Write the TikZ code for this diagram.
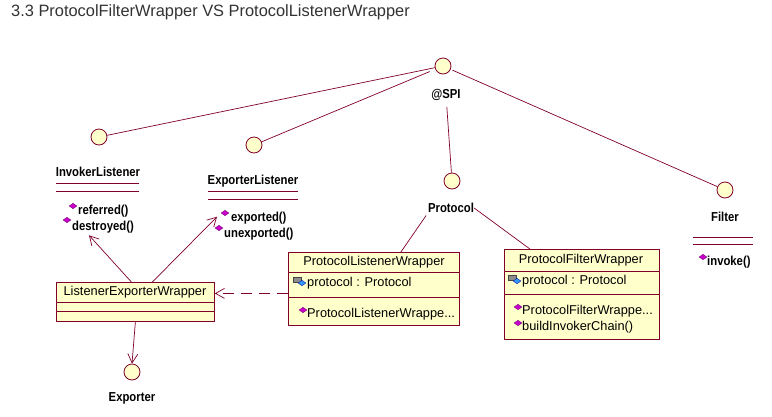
\documentclass[tikz,border=0pt]{standalone}
\usepackage{fontspec}
\setmainfont{Liberation Sans}
\newfontfamily\lblfont[FakeStretch=0.87]{Liberation Sans Bold}
\usetikzlibrary{arrows.meta,shapes.geometric}
\definecolor{ln}{HTML}{80002B}
\definecolor{fillc}{HTML}{FFFFCC}
\definecolor{mag}{HTML}{CC00CC}
\definecolor{titlec}{HTML}{333333}
\definecolor{lockc}{HTML}{8C8C8C}
\definecolor{bluec}{HTML}{3399FF}
\tikzset{
  iface/.style={circle, draw=ln, fill=fillc, minimum size=16pt, inner sep=0pt, line width=0.8pt},
  lbl/.style={font=\lblfont\fontsize{13}{14}\selectfont, inner sep=0pt},
  mtext/.style={font=\lblfont\fontsize{13}{14}\selectfont, inner sep=0pt, anchor=west},
  btext/.style={font=\fontsize{12.8}{14}\selectfont, inner sep=0pt},
  conn/.style={draw=ln, line width=0.7pt},
  arr/.style={conn, -{Straight Barb[length=9pt,width=10pt]}},
  darr/.style={arr, dash pattern=on 11pt off 7pt},
  umlbox/.style={draw=ln, fill=fillc, line width=0.8pt, inner sep=0pt, anchor=north west},
  comp/.style={draw=ln, line width=0.8pt},
  mdia/.style={diamond, fill=mag, draw=mag!50!black, line width=0.3pt, minimum width=8pt, minimum height=5.5pt, inner sep=0pt},
  adia/.style={diamond, fill=bluec, draw=blue!60!black, line width=0.3pt, minimum width=8pt, minimum height=5.5pt, inner sep=0pt}
}
\begin{document}
\begin{tikzpicture}[x=1pt,y=-1pt]
\useasboundingbox (0,0) rectangle (772,416);
\fill[white] (0,0) rectangle (772,416);

% title
\node[anchor=west, inner sep=0pt, text=titlec, font=\fontsize{16.4}{18}\selectfont] (title) at (11,12) {3.3 ProtocolFilterWrapper VS ProtocolListenerWrapper};

% interface circles
\node[iface] (spi) at (443,66) {};
\node[iface] (invl) at (99,137) {};
\node[iface] (expl) at (254,145) {};
\node[iface] (proto) at (452,181) {};
\node[iface] (filt) at (725,190) {};
\node[iface] (exporter) at (132,372) {};

% interface labels
\node[lbl] (spiL) at (446,95) {@SPI};
\node[lbl] (invlL) at (98,172) {InvokerListener};
\node[lbl] (explL) at (253,181) {ExporterListener};
\node[lbl] (protoL) at (451,208) {Protocol};
\node[lbl] (filtL) at (725,217) {Filter};
\node[lbl] (exporterL) at (132,398) {Exporter};

% interface compartments
\draw[comp] (56,183) -- (139,183);
\draw[comp] (56,191) -- (139,191);
\draw[comp] (208,191) -- (298,191);
\draw[comp] (208,199) -- (298,199);
\draw[comp] (693,237) -- (753,237);
\draw[comp] (693,244) -- (753,244);

% interface methods
\node[mtext] (im1) at (78,211) {referred()};
\node[mtext] (im2) at (72,227) {destroyed()};
\node[mdia] (imd1) at (73,206) {};
\node[mdia] (imd2) at (67,220) {};
\node[mtext] (em1) at (231,218) {exported()};
\node[mtext] (em2) at (224,234) {unexported()};
\node[mdia] (emd1) at (225,213) {};
\node[mdia] (emd2) at (219,228) {};
\node[mtext] (fm1) at (707,262) {invoke()};
\node[mdia] (fmd1) at (703,257) {};

% ProtocolListenerWrapper
\node[umlbox, minimum width=171pt, minimum height=73pt] (plw) at (288,252) {};
\draw[comp] (288,272) -- (459,272);
\draw[comp] (288,297) -- (459,297);
\node[btext] (plwN) at (374,262) {ProtocolListenerWrapper};
\node[btext, anchor=west] (plwA) at (307,283) {protocol : Protocol};
\node[btext, anchor=west] (plwM) at (307,314) {ProtocolListenerWrappe...};
\node[mdia] (plwMd) at (303,310) {};

% ProtocolFilterWrapper
\node[umlbox, minimum width=155pt, minimum height=90pt] (pfw) at (504,249) {};
\draw[comp] (504,271) -- (659,271);
\draw[comp] (504,294) -- (659,294);
\node[btext] (pfwN) at (581,260) {ProtocolFilterWrapper};
\node[btext, anchor=west] (pfwA) at (522,281) {protocol : Protocol};
\node[btext, anchor=west] (pfwM1) at (522,311) {ProtocolFilterWrappe...};
\node[btext, anchor=west] (pfwM2) at (522,327) {buildInvokerChain()};
\node[mdia] (pfwMd1) at (518,307) {};
\node[mdia] (pfwMd2) at (518,323) {};

% attribute icons (lock + blue diamond)
\foreach \px/\py/\nm in {297/279/a, 512/277/b}{
  \draw[lockc!70!black, line width=1pt] (\px-2.5,\py-2) arc (180:0:2.5);
  \fill[lockc, draw=lockc!50!black, line width=0.3pt] (\px-4,\py-2) rectangle (\px+4,\py+3);
  \node[adia] (ad\nm) at (\px+5,\py+4) {};
}

% ListenerExporterWrapper
\node[umlbox, minimum width=158pt, minimum height=39pt] (lew) at (56,282) {};
\draw[comp] (56,302) -- (214,302);
\draw[comp] (56,311) -- (214,311);
\node[btext] (lewN) at (135,292) {ListenerExporterWrapper};

% connectors from @SPI
\draw[conn] (spi) -- (invl);
\draw[conn, shorten <=6pt] (spi) -- (expl);
\draw[conn, shorten <=2pt] (spi) -- (filt);
\draw[conn, shorten <=6pt] (spiL) -- (proto);

% Protocol to wrappers
\draw[conn, shorten <=3pt] (protoL.south west) -- ([xshift=27pt]plw.north);
\draw[conn] (protoL.east) -- ([xshift=-52pt]pfw.north);

% ListenerExporterWrapper relations
\draw[darr] ([yshift=-4.5pt]plw.west) coordinate (d1) -- (d1 -| lew.east);
\draw[arr] ([xshift=-4pt]lew.north) -- ([xshift=17pt,yshift=-2pt]im2.south west);
\draw[arr] ([xshift=17pt]lew.north) -- ([xshift=-14pt,yshift=-5pt]em1.north west);
\draw[arr] (lew.south) -- (exporter.north);
\end{tikzpicture}
\end{document}
